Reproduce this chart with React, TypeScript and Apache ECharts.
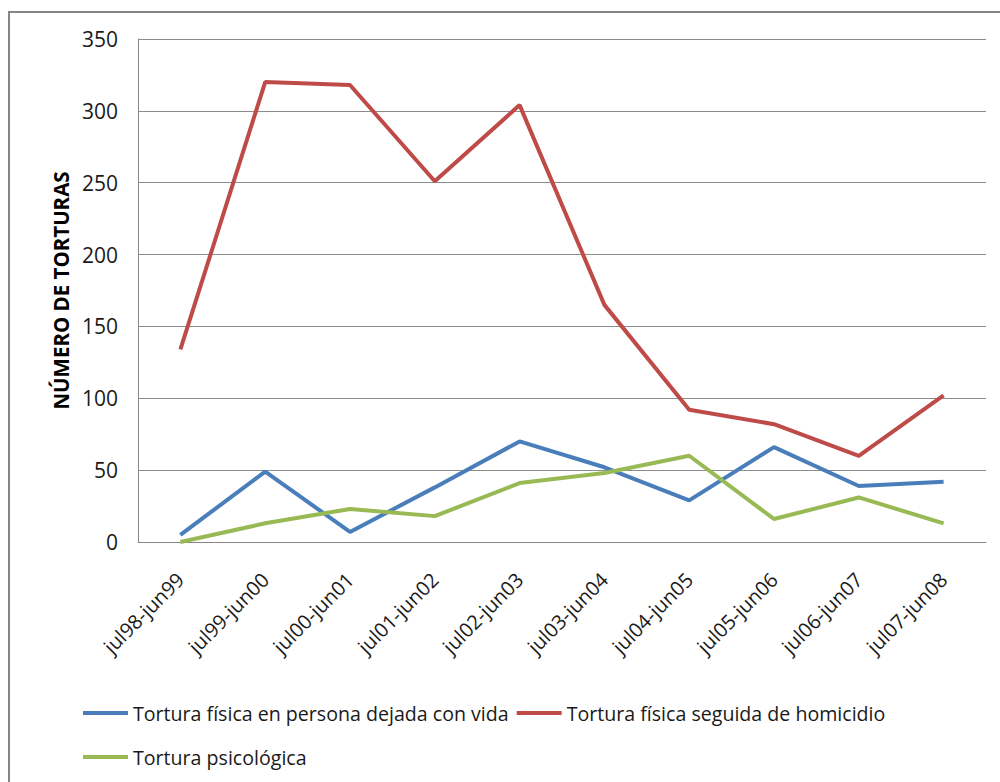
import React, { useEffect, useRef } from "react";
import * as echarts from "echarts";

const categories = [
  "jul98-jun99",
  "jul99-jun00",
  "jul00-jun01",
  "jul01-jun02",
  "jul02-jun03",
  "jul03-jun04",
  "jul04-jun05",
  "jul05-jun06",
  "jul06-jun07",
  "jul07-jun08",
];

const seriesNames = [
  "Tortura física en persona dejada con vida",
  "Tortura física seguida de homicidio",
  "Tortura psicológica",
];

const vidaValues = [5, 49, 7, 38, 70, 52, 29, 66, 39, 42];
const homicidioValues = [134, 320, 318, 251, 304, 165, 92, 82, 60, 102];
const psicologicaValues = [0, 13, 23, 18, 41, 48, 60, 16, 31, 13];

const yTicks = { min: 0, max: 350, interval: 50 };
const yAxisTitle = "NÚMERO DE TORTURAS";

const colors = ["#4A7EBB", "#BE4B48", "#98B954"];
const FONT = "'Open Sans', sans-serif";
const TEXT = "#1a1a1a";

export default function App() {
  const ref = useRef<HTMLDivElement>(null);
  useEffect(() => {
    if (!ref.current) return;
    const chart = echarts.init(ref.current, null, { renderer: "svg" });
    const mk = (name: string, data: number[], color: string) => ({
      name,
      type: "line",
      data,
      showSymbol: false,
      symbol: "none",
      lineStyle: { color, width: 4 },
      itemStyle: { color },
    });
    const legendBase = {
      left: 83,
      padding: 0,
      icon: "rect",
      itemWidth: 45,
      itemHeight: 4,
      itemGap: 8,
      textStyle: { fontFamily: FONT, fontSize: 19.6, color: TEXT },
    };
    chart.setOption({
      animation: false,
      backgroundColor: "#ffffff",
      textStyle: { fontFamily: FONT },
      graphic: [
        {
          type: "rect",
          shape: { x: 9, y: 12, width: 1010, height: 800 },
          style: { fill: "none", stroke: "#868686", lineWidth: 2 },
          silent: true,
        },
      ],
      grid: { left: 138, right: 14, top: 39, bottom: 240, containLabel: false },
      legend: [
        { ...legendBase, data: [seriesNames[0], seriesNames[1]], top: 703 },
        { ...legendBase, data: [seriesNames[2]], top: 747 },
      ],
      xAxis: {
        type: "category",
        data: categories,
        boundaryGap: true,
        axisLine: { lineStyle: { color: "#868686", width: 1 } },
        axisTick: { show: false },
        axisLabel: {
          rotate: 45,
          margin: 34,
          fontSize: 20,
          color: TEXT,
          fontFamily: FONT,
        },
      },
      yAxis: {
        type: "value",
        min: yTicks.min,
        max: yTicks.max,
        interval: yTicks.interval,
        name: yAxisTitle,
        nameLocation: "middle",
        nameGap: 67,
        nameTextStyle: {
          fontFamily: FONT,
          fontSize: 20.5,
          fontWeight: "bold",
          color: "#000",
        },
        axisLine: { show: true, lineStyle: { color: "#868686", width: 1 } },
        axisTick: { show: false },
        splitLine: { lineStyle: { color: "#8c8c8c", width: 1 } },
        axisLabel: {
          margin: 20,
          fontSize: 21,
          color: TEXT,
          fontFamily: FONT,
        },
      },
      series: [
        mk(seriesNames[0], vidaValues, colors[0]),
        mk(seriesNames[1], homicidioValues, colors[1]),
        mk(seriesNames[2], psicologicaValues, colors[2]),
      ],
    });
    return () => chart.dispose();
  }, []);
  return (
    <div
      ref={ref}
      style={{ position: "fixed", left: 0, top: 0, width: 1000, height: 782 }}
    />
  );
}
